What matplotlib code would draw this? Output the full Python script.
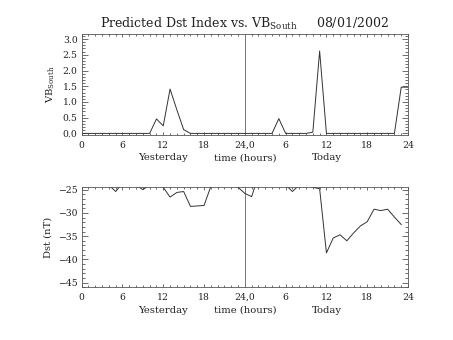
import numpy as np
import matplotlib
matplotlib.use('Agg')
import matplotlib.pyplot as plt
from matplotlib.ticker import MultipleLocator, FormatStrFormatter

plt.rcParams['font.family'] = ['DejaVu Serif']
plt.rcParams['mathtext.fontset'] = 'dejavuserif'

# hours since start of yesterday (0..48)
hours_vb = np.arange(49)
vb_south = [0, 0, 0, 0, 0, 0, 0, 0, 0, 0, 0, 0.46, 0.24, 1.41, 0.75, 0.12,
            0, 0, 0, 0, 0, 0, 0, 0, 0, 0, 0, 0, 0, 0.47, 0, 0,
            0, 0, 0.04, 2.62, 0, 0, 0, 0, 0, 0, 0, 0, 0, 0, 0, 1.47, 1.47]

hours_dst = np.arange(48)
dst = [-23, -22, -22, -23, -24, -25.4, -23.6, -23, -24, -25.0, -24, -23.5,
       -24.5, -26.6, -25.6, -25.4, -28.6, -28.5, -28.4, -24.3, -23, -22, -23, -24.5,
       -25.8, -26.5, -22, -22, -22, -23, -24, -25.4, -24, -24, -24.5, -24.8,
       -38.6, -35.4, -34.7, -36.0, -34.3, -32.8, -31.9, -29.2, -29.5, -29.2, -30.9, -32.5]

xticks = [0, 6, 12, 18, 24, 30, 36, 42, 48]
xticklabels = ['0', '6', '12', '18', '24,0', '6', '12', '18', '24']
under_labels = [(12, 'Yesterday'), (24, 'time (hours)'), (36, 'Today')]

txt = '#222222'
fig = plt.figure(figsize=(4.53, 3.40), dpi=100)
ax1 = fig.add_axes([0.1803, 0.603, 0.7204, 0.296])
ax2 = fig.add_axes([0.1803, 0.155, 0.7204, 0.294])


def style(ax):
    ax.set_xlim(0, 48)
    ax.set_xticks(xticks)
    ax.set_xticklabels(xticklabels)
    ax.xaxis.set_minor_locator(MultipleLocator(1))
    ax.axvline(24, color='#777777', lw=0.7)
    ax.tick_params(which='both', direction='in', top=True, right=True,
                   colors='#555555', labelcolor=txt, labelsize=6.7, width=0.6)
    ax.tick_params(axis='y', which='major', length=4, pad=3)
    ax.tick_params(axis='y', which='minor', length=2)
    ax.tick_params(axis='x', which='major', length=2.5, pad=4)
    ax.tick_params(axis='x', which='minor', length=1.5)
    for s in ax.spines.values():
        s.set_color('#555555')
        s.set_linewidth(0.6)
    # day names and axis title under the tick labels
    for h, name in under_labels:
        ax.annotate(name, xy=(h, 0), xycoords=('data', 'axes fraction'),
                    xytext=(0, -16.5), textcoords='offset points',
                    ha='center', va='center', fontsize=7.2, color=txt)


style(ax1)
ax1.plot(hours_vb, vb_south, color='#333333', lw=0.7)
ax1.set_ylim(-0.05, 3.15)
ax1.yaxis.set_major_locator(MultipleLocator(0.5))
ax1.yaxis.set_minor_locator(MultipleLocator(0.1))
ax1.yaxis.set_major_formatter(FormatStrFormatter('%.1f'))
ax1.set_ylabel(r'VB$_{\mathrm{South}}$', fontsize=7.2, color=txt, labelpad=4)
ax1.set_title(r'Predicted Dst Index vs. VB$_{\mathrm{South}}$     08/01/2002',
              fontsize=9, color=txt, pad=4.5)

style(ax2)
ax2.plot(hours_dst, dst, color='#333333', lw=0.7)
ax2.set_ylim(-46, -24.5)
ax2.yaxis.set_major_locator(MultipleLocator(5))
ax2.yaxis.set_minor_locator(MultipleLocator(1))
ax2.set_ylabel('Dst (nT)', fontsize=7.2, color=txt, labelpad=4)

fig.savefig('out.png', dpi=100)
